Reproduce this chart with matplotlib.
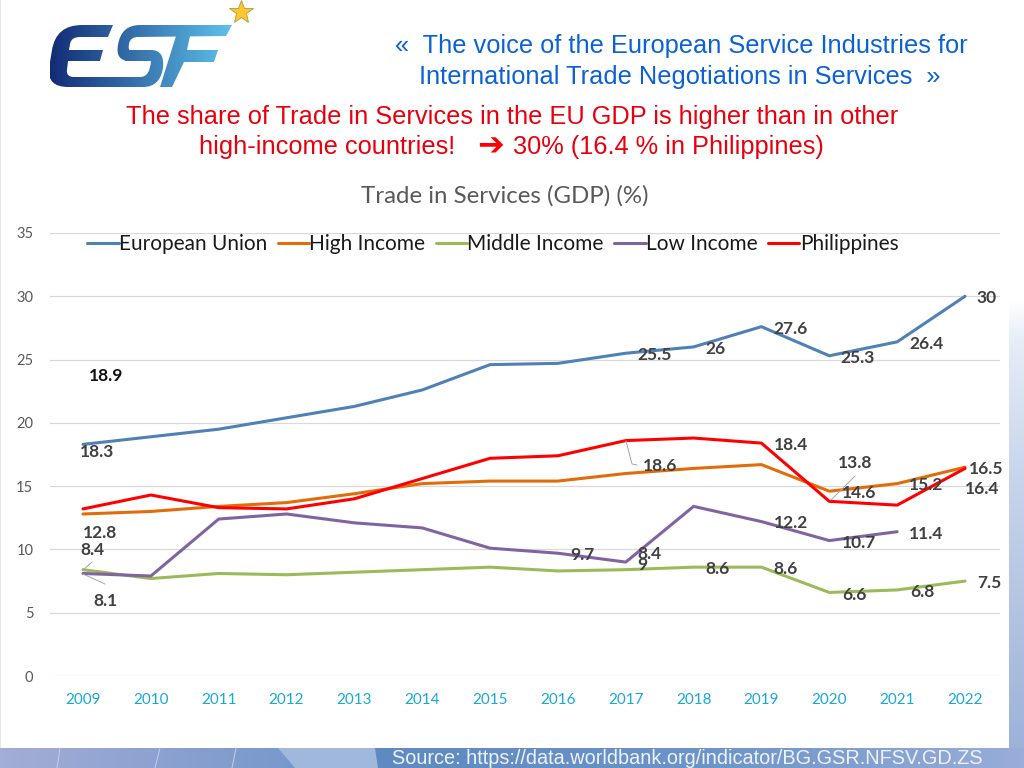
import numpy as np
import matplotlib
matplotlib.use('Agg')
import matplotlib.pyplot as plt
from matplotlib.patches import PathPatch, Rectangle, Polygon
from matplotlib.path import Path

W, H = 1024, 768

years = list(range(2009, 2023))
eu = [18.3, 18.9, 19.5, 20.4, 21.3, 22.6, 24.6, 24.7, 25.5, 26.0, 27.6, 25.3, 26.4, 30.0]
high = [12.8, 13.0, 13.4, 13.7, 14.4, 15.2, 15.4, 15.4, 16.0, 16.4, 16.7, 14.6, 15.2, 16.5]
middle = [8.4, 7.7, 8.1, 8.0, 8.2, 8.4, 8.6, 8.3, 8.4, 8.6, 8.6, 6.6, 6.8, 7.5]
low = [8.1, 7.9, 12.4, 12.8, 12.1, 11.7, 10.1, 9.7, 9.0, 13.4, 12.2, 10.7, 11.4, np.nan]
phil = [13.2, 14.3, 13.3, 13.2, 14.0, 15.6, 17.2, 17.4, 18.6, 18.8, 18.4, 13.8, 13.5, 16.4]

series_names = ['European Union', 'High Income', 'Middle Income', 'Low Income', 'Philippines']
series_colors = ['#4f81b5', '#e36c0a', '#9bbb59', '#8064a2', '#ff0000']

# label text, pixel position of its centre
point_labels = [
    ('18.3', 97, 452), ('25.5', 655, 355), ('26', 715, 349), ('27.6', 791, 329),
    ('25.3', 858, 358), ('26.4', 926, 344), ('30', 987, 298),
    ('12.8', 100, 533), ('18.6', 660, 466), ('18.4', 791, 445), ('13.8', 855, 463),
    ('14.6', 859, 493), ('15.2', 926, 485), ('16.5', 986, 469), ('16.4', 982, 489),
    ('8.4', 92, 550), ('8.1', 105, 601), ('9.7', 582, 555), ('8.4', 649, 554),
    ('9', 642, 565), ('8.6', 718, 569), ('8.6', 786, 569), ('12.2', 791, 523),
    ('10.7', 859, 543), ('11.4', 926, 534), ('6.6', 854, 595), ('6.8', 922, 592),
    ('7.5', 989, 583),
]
# thin leader lines, in pixels
leaders = [
    ([83, 92], [570, 562]), ([83, 105], [574, 584]),
    ([626, 632, 637], [441, 464, 465]), ([831, 855], [500, 476]),
]

# logo outlines in pixels, as (command, points): L line, Q quadratic curve
logo_e = [('M', (113, 25)), ('L', (82, 25)), ('Q', (56, 25), (52, 50)), ('L', (49, 68)), ('Q', (47, 87), (68, 87)),
          ('L', (143, 87)), ('Q', (160, 87), (163, 68)), ('Q', (165, 50), (151, 50)), ('L', (128, 50)), ('L', (125, 61)),
          ('L', (151, 61)), ('Q', (150, 77), (140, 77)), ('L', (74, 77)), ('Q', (66, 77), (67, 70)), ('L', (68, 61)),
          ('L', (100, 61)), ('L', (103, 50)), ('L', (69, 50)), ('L', (70, 44)), ('Q', (71, 37), (80, 37)), ('L', (108, 37))]
logo_s = [('M', (232, 25)), ('L', (140, 25)), ('Q', (121, 25), (118, 45)), ('Q', (115, 61), (130, 61)), ('L', (145, 61)),
          ('L', (145, 50)), ('L', (130, 50)), ('Q', (128, 50), (129, 44)), ('Q', (130, 37), (138, 37)), ('L', (226, 36))]
logo_f = [('M', (176, 36)), ('L', (190, 36)), ('L', (187, 50)), ('L', (218, 50)), ('L', (214, 62)), ('L', (184, 62)),
          ('L', (172, 87)), ('L', (160, 87))]


def px(x, y):
    return x / W, 1 - y / H


def outline(cmds):
    verts, codes = [], []
    for c in cmds:
        if c[0] == 'M':
            verts.append(c[1])
            codes.append(Path.MOVETO)
        elif c[0] == 'L':
            verts.append(c[1])
            codes.append(Path.LINETO)
        else:
            verts += [c[1], c[2]]
            codes += [Path.CURVE3, Path.CURVE3]
    verts.append(cmds[0][1])
    codes.append(Path.CLOSEPOLY)
    return Path(verts, codes)


def main():
    fig = plt.figure(figsize=(W / 100, H / 100), dpi=100, facecolor='white')

    # slide background below and right of the white panel
    bg = fig.add_axes([0, 0, 1, 1], zorder=0)
    bg.axis('off')
    stop_x = [0, 280, 380, 700, 1024]
    stop_c = np.array([[0.64, 0.68, 0.84], [0.48, 0.60, 0.80], [0.37, 0.54, 0.76],
                       [0.42, 0.58, 0.78], [0.60, 0.68, 0.85]])
    xs = np.linspace(0, W, 512)
    band = np.stack([np.interp(xs, stop_x, stop_c[:, i]) for i in range(3)], axis=-1)[None, :, :]
    bg.imshow(band, extent=[0, W, H, 748], aspect='auto')
    bg.add_patch(Polygon([(278, 748), (375, 748), (378, 768), (295, 768)], color='#a0b8dc', lw=0))
    for x0, x1 in [(60, 57), (160, 155), (236, 232)]:
        bg.plot([x0, x1], [748, 768], color='#c3cde6', lw=0.7)
    ys = np.linspace(300, 748, 256)
    side = np.stack([np.interp(ys, [300, 340, 480, 748], c) for c in
                     ([1, 0.90, 0.78, 0.62], [1, 0.93, 0.83, 0.70], [1, 0.97, 0.92, 0.85])], axis=-1)[:, None, :]
    bg.imshow(side, extent=[1009, W, 748, 300], aspect='auto')
    bg.add_patch(Rectangle((0, 0), 1, 748, color='#e6e6e6', lw=0))

    # logo letters filled with a gradient
    c0, c1 = np.array([0.07, 0.17, 0.46]), np.array([0.37, 0.76, 0.92])
    t = np.linspace(0, 1, 256)[None, :, None]
    for cmds in [logo_e, logo_s, logo_f]:
        shape = PathPatch(outline(cmds), fc='none', ec='none', transform=bg.transData)
        bg.add_patch(shape)
        grad = bg.imshow(c0 * (1 - t) + c1 * t, extent=[50, 232, 88, 25], aspect='auto', zorder=2)
        grad.set_clip_path(shape)
    bg.plot([241], [12], marker='*', ms=18, mfc='#fdc82f', mec='#b09a40', mew=0.6, zorder=3)
    bg.set_xlim(0, W)
    bg.set_ylim(H, 0)

    fig.text(*px(681, 46), '«  The voice of the European Service Industries for', color='#0b62d6',
             family='Liberation Sans', fontsize=18.3, ha='center', va='center')
    fig.text(*px(680, 77), 'International Trade Negotiations in Services  »', color='#0b62d6',
             family='Liberation Sans', fontsize=18.3, ha='center', va='center')
    fig.text(*px(512, 117), 'The share of Trade in Services in the EU GDP is higher than in other', color='#e8000d',
             family='Liberation Sans', fontsize=18.3, ha='center', va='center')
    fig.text(*px(327, 147), 'high-income countries!', color='#e8000d',
             family='Liberation Sans', fontsize=18.3, ha='center', va='center')
    fig.text(*px(491, 147), '\u2794', color='#ff0000', family='DejaVu Sans', fontsize=23,
             ha='center', va='center', fontweight='bold')
    fig.text(*px(668, 147), '30% (16.4 % in Philippines)', color='#e8000d',
             family='Liberation Sans', fontsize=18.3, ha='center', va='center')
    fig.text(*px(505, 196), 'Trade in Services (GDP) (%)', color='#595959',
             family='Lato', fontsize=17.3, ha='center', va='center')

    # chart axes: gridlines run from 50 to 1000 px, 0 at 676 and 35 at 233
    ax = fig.add_axes([50 / W, 1 - 676 / H, 950 / W, (676 - 233) / H], zorder=1)
    ax.patch.set_alpha(0)
    for vals, name, col in zip([eu, high, middle, low, phil], series_names, series_colors):
        ax.plot(years, vals, color=col, lw=2.2, label=name, solid_capstyle='round')
    ax.set_xlim(2009 - 33 / 67.85, 2022 + 35 / 67.85)
    ax.set_ylim(0, 35)
    ax.set_yticks(range(0, 36, 5))
    ax.set_xticks(years)
    ax.grid(axis='y', color='#d9d9d9', lw=0.9)
    ax.set_axisbelow(True)
    for s in ax.spines.values():
        s.set_visible(False)
    ax.tick_params(axis='both', length=0)
    ax.tick_params(axis='x', labelcolor='#17a9d6', labelsize=11, pad=12)
    ax.tick_params(axis='y', labelcolor='#595959', labelsize=10.5, pad=12)
    for lab in ax.get_xticklabels() + ax.get_yticklabels():
        lab.set_family('Lato')

    ax.legend(loc='upper left', bbox_to_anchor=(27 / 950, 1.021), ncol=5, frameon=False,
              prop={'family': 'Lato', 'size': 15}, labelcolor='#1a1a1a', handlelength=1.5,
              handletextpad=0.02, columnspacing=0.5, borderaxespad=0.1)

    overlay = fig.add_axes([0, 0, 1, 1], zorder=2)
    overlay.set_xlim(0, W)
    overlay.set_ylim(H, 0)
    overlay.axis('off')
    for xs, ys in leaders:
        overlay.plot(xs, ys, color='#a6a6a6', lw=0.7)
    for txt, x, y in point_labels:
        overlay.text(x, y, txt, color='#404040', family='Lato', fontsize=12.5,
                     fontweight='bold', ha='center', va='center')
    overlay.text(106, 376, '18.9', color='#111111', family='Lato', fontsize=12.5,
                 fontweight='bold', ha='center', va='center')
    overlay.text(687.5, 758, 'Source: https://data.worldbank.org/indicator/BG.GSR.NFSV.GD.ZS',
                 color='#eef2f9', family='Liberation Sans', fontsize=14.3, ha='center', va='center')

    fig.savefig('out.png', dpi=100)


if __name__ == '__main__':
    main()
